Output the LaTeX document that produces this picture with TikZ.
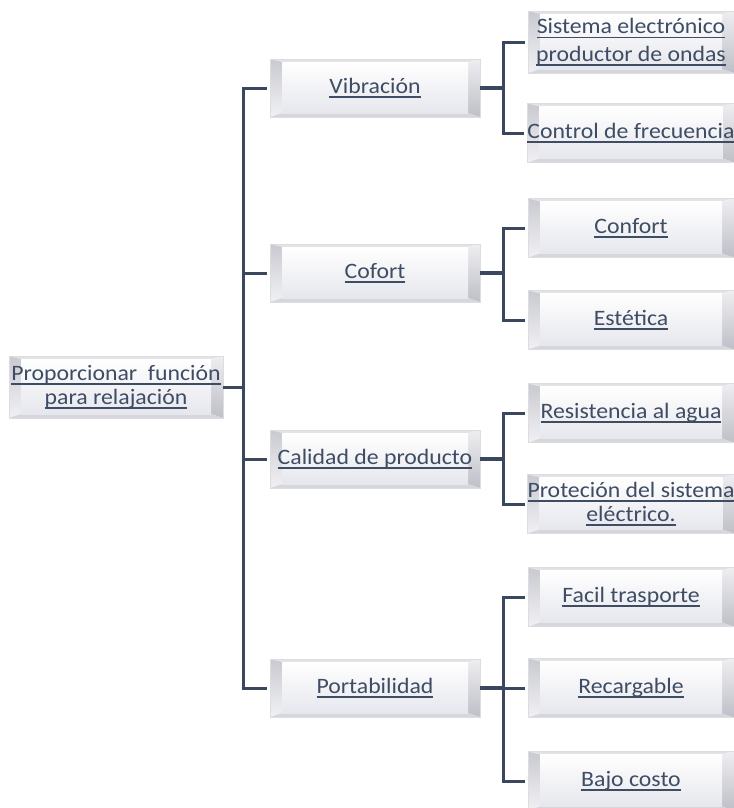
\documentclass[tikz,border=0pt]{standalone}
\usepackage{fontspec}
\setmainfont{Carlito}[FakeStretch=1.08]
\usetikzlibrary{calc}

\definecolor{ink}{HTML}{3E4C64}
\definecolor{wire}{HTML}{3A475F}
\definecolor{bvedge}{HTML}{DCDCE1}
\definecolor{bvtop}{HTML}{E3E3E7}
\definecolor{bvlA}{HTML}{C9CAD1}
\definecolor{bvlB}{HTML}{F1F1F4}
\definecolor{bvrA}{HTML}{EEEEF1}
\definecolor{bvrB}{HTML}{BEBFC7}
\definecolor{bvbot}{HTML}{D6D7DD}
\definecolor{faceB}{HTML}{E6E7ED}

% underlined label line (hyperlink look)
\newcommand\ulin[1]{\setbox0=\hbox{#1}\leavevmode\rlap{\rule[-3.4pt]{\wd0}{1.1pt}}\box0}

\tikzset{
  bevelbox/.style={
    draw=bvedge, line width=0.5pt, inner sep=0pt, align=center,
    text=ink, font=\fontsize{16.5}{18}\selectfont,
    path picture={
      \coordinate (@sw) at (path picture bounding box.south west);
      \coordinate (@ne) at (path picture bounding box.north east);
      \coordinate (@nw) at (path picture bounding box.north west);
      \coordinate (@se) at (path picture bounding box.south east);
      \fill[bvtop] (@nw) -- (@ne) -- ($(@ne)+(-9pt,-2.25pt)$) -- ($(@nw)+(9pt,-2.25pt)$) -- cycle;
      \shade[top color=bvlA, bottom color=bvlB] (@nw) -- ($(@nw)+(9pt,-2.25pt)$) -- ($(@sw)+(9pt,3pt)$) -- (@sw) -- cycle;
      \shade[top color=bvrA, bottom color=bvrB] (@ne) -- (@se) -- ($(@se)+(-9pt,3pt)$) -- ($(@ne)+(-9pt,-2.25pt)$) -- cycle;
      \fill[bvbot] (@sw) -- ($(@sw)+(9pt,3pt)$) -- ($(@se)+(-9pt,3pt)$) -- (@se) -- cycle;
      \shade[top color=white, bottom color=faceB] ($(@nw)+(9pt,-2.25pt)$) rectangle ($(@se)+(-9pt,3pt)$);
    }},
  rootbox/.style={bevelbox, minimum width=160.5pt, minimum height=46.5pt},
  midbox/.style={bevelbox, minimum width=157.5pt, minimum height=43.5pt},
  leafbox/.style={bevelbox, minimum width=154.5pt, minimum height=44.25pt},
  conn/.style={draw=wire, line width=2.25pt},
  feed/.style={draw=wire, line width=3pt},
}

\begin{document}
\begin{tikzpicture}[x=0.75pt,y=-0.75pt]
\useasboundingbox (0,0) rectangle (734,808);
\clip (0,0) rectangle (734,808);
\fill[white] (0,0) rectangle (734,808);

% root
\node[rootbox] (root) at (116,387) {\ulin{Proporcionar\ \ función}\\\ulin{para relajación}};

% first level
\node[midbox] (vib)  at (375,88)  {\ulin{Vibración}};
\node[midbox] (cof)  at (375,273) {\ulin{Cofort}};
\node[midbox] (cal)  at (375,459) {\ulin{Calidad de producto}};
\node[midbox] (port) at (375,688) {\ulin{Portabilidad}};

% second level
\node[leafbox, minimum height=46.5pt] (s1) at (631,42) {\ulin{Sistema electrónico}\\[2.5pt]\ulin{productor de ondas}};
\node[leafbox] (s2) at (631,133) {\ulin{Control de frecuencia}};
\node[leafbox] (s3) at (631,228) {\ulin{Confort}};
\node[leafbox] (s4) at (631,320) {\ulin{Estética}};
\node[leafbox] (s5) at (631,413) {\ulin{Resistencia al agua}};
\node[leafbox] (s6) at (631,504) {\ulin{Proteción del sistema}\\\ulin{eléctrico.}};
\node[leafbox] (s7) at (631,597) {\ulin{Facil trasporte}};
\node[leafbox] (s8) at (631,688) {\ulin{Recargable}};
\node[leafbox] (s9) at (631,781) {\ulin{Bajo costo}};

% trunk and branch columns
\coordinate (tk) at (243,0);
\coordinate (bx) at (503,0);

% root to first level
\draw[conn] (root.east) -- (root.east -| tk);
\draw[conn] ([xshift=-2.25pt]vib.west) -| (tk |- port.west) -- ([xshift=-2.25pt]port.west);
\draw[conn] (tk |- cof.west) -- ([xshift=-2.25pt]cof.west);
\draw[conn] (tk |- cal.west) -- ([xshift=-2.25pt]cal.west);

% first level to second level
\draw[feed] (vib.east) -- (vib.east -| bx);
\draw[conn] ([xshift=-2pt]s1.west) -| (bx |- s2.west) -- ([xshift=-2pt]s2.west);

\draw[feed] (cof.east) -- (cof.east -| bx);
\draw[conn] ([xshift=-2pt]s3.west) -| (bx |- s4.west) -- ([xshift=-2pt]s4.west);

\draw[feed] (cal.east) -- (cal.east -| bx);
\draw[conn] ([xshift=-2pt]s5.west) -| (bx |- s6.west) -- ([xshift=-2pt]s6.west);

\draw[feed] (port.east) -- (port.east -| bx);
\draw[conn] ([xshift=-2pt]s7.west) -| (bx |- s9.west) -- ([xshift=-2pt]s9.west);
\draw[conn] (bx |- s8.west) -- ([xshift=-2pt]s8.west);
\end{tikzpicture}
\end{document}
